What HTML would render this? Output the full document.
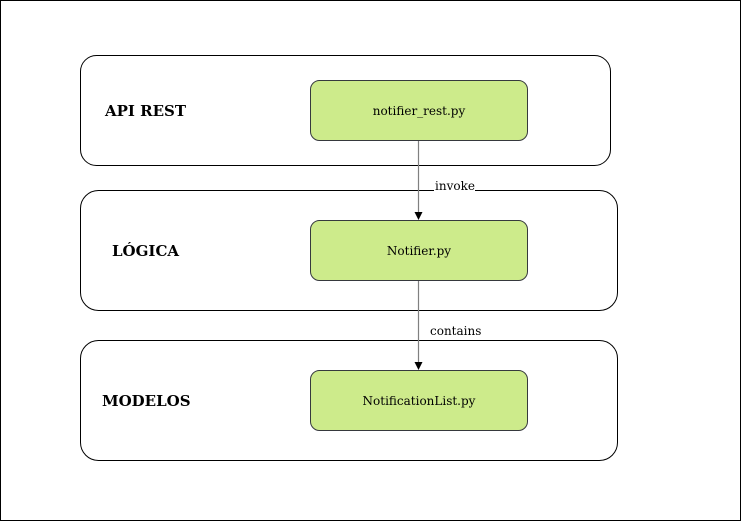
<!DOCTYPE html>
<html><head><meta charset="utf-8"><style>
html,body{margin:0;padding:0;background:#fff}
svg{display:block}
text{font-family:"DejaVu Serif","Liberation Serif",serif;fill:#000}
</style></head><body>
<svg width="741" height="521" viewBox="0 0 741 521" xmlns="http://www.w3.org/2000/svg">
<rect x="0.5" y="0.5" width="740" height="520" fill="#fff" stroke="#000"/>
<rect x="80.5" y="55.5" width="530" height="110" rx="16" fill="#fff" stroke="#000"/>
<rect x="80.5" y="190.5" width="537" height="120" rx="18" fill="#fff" stroke="#000"/>
<rect x="80.5" y="340.5" width="537" height="120" rx="18" fill="#fff" stroke="#000"/>
<text x="105" y="116" font-size="15" font-weight="bold">API REST</text>
<text x="112" y="256" font-size="15" font-weight="bold">LÓGICA</text>
<text x="102" y="406" font-size="15" font-weight="bold">MODELOS</text>
<rect x="310.5" y="80.5" width="217" height="60" rx="9" fill="#cdeb8b" stroke="#36393d"/>
<rect x="310.5" y="220.5" width="217" height="60" rx="9" fill="#cdeb8b" stroke="#36393d"/>
<rect x="310.5" y="370.5" width="217" height="60" rx="9" fill="#cdeb8b" stroke="#36393d"/>
<text x="419" y="115" font-size="12" text-anchor="middle">notifier_rest.py</text>
<text x="419" y="255" font-size="12" text-anchor="middle">Notifier.py</text>
<text x="419" y="405" font-size="12" text-anchor="middle">NotificationList.py</text>
<line x1="418.5" y1="141" x2="418.5" y2="213" stroke="#808080" stroke-width="1.2"/>
<polygon points="414.5,212 422.5,212 418.5,220" fill="#000"/>
<line x1="418.5" y1="281" x2="418.5" y2="363" stroke="#808080" stroke-width="1.2"/>
<polygon points="414.5,362 422.5,362 418.5,370" fill="#000"/>
<rect x="434" y="178" width="41" height="14" fill="#fff"/>
<text x="435" y="190" font-size="12">invoke</text>
<text x="430" y="335" font-size="12">contains</text>
</svg>
</body></html>
